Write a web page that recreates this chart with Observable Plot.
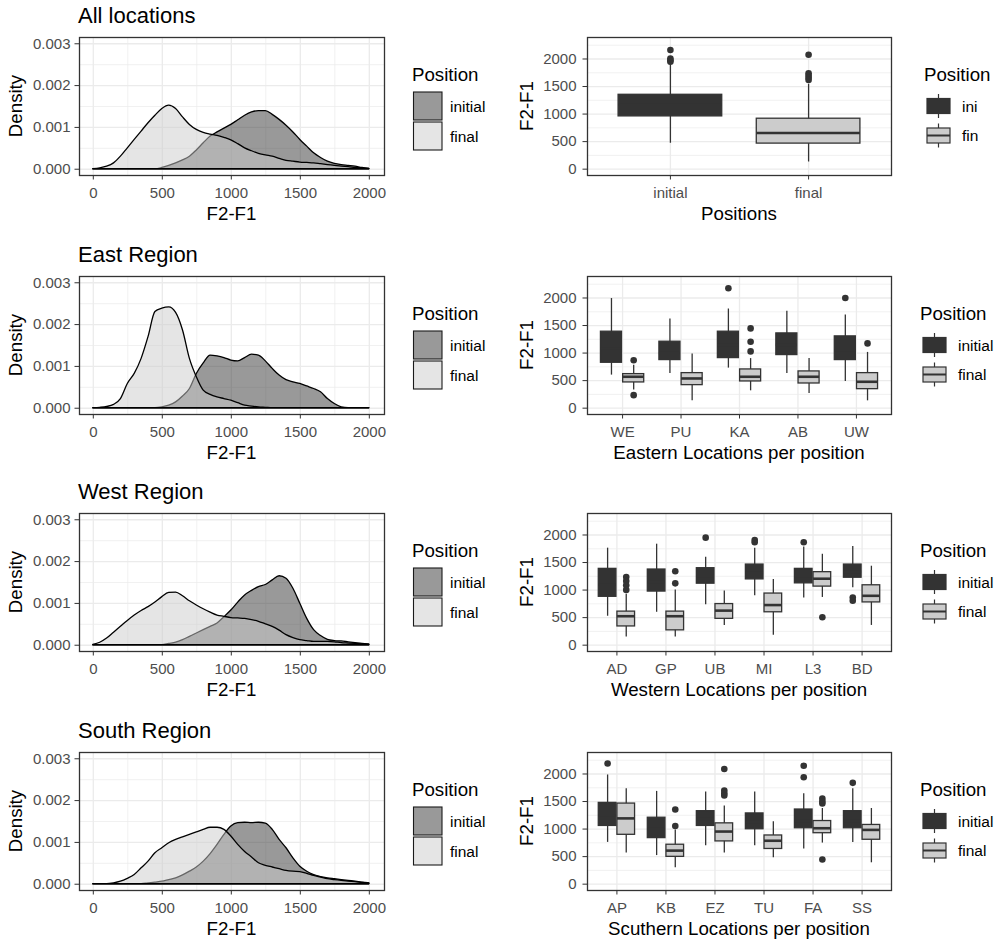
<!DOCTYPE html>
<html><head><meta charset="utf-8">
<script src="https://cdn.jsdelivr.net/npm/d3@7"></script>
<script src="https://cdn.jsdelivr.net/npm/@observablehq/plot@0.6"></script>
<style>
body{margin:0;background:#fff;}
#root{position:relative;width:997px;height:941px;overflow:hidden;background:#fff;font-family:"Liberation Sans",Arial,sans-serif;}
.cell{position:absolute;}
.cell svg{display:block;max-width:none;}
#overlay{position:absolute;left:0;top:0;pointer-events:none;}
</style></head><body><div id="root"></div>
<script>
// ---------------- DATA ----------------
const positions = ["initial", "final"];
const regionTitles = ["All locations", "East Region", "West Region", "South Region"];
const boxAxisTitles = ["Positions", "Eastern Locations per position", "Western Locations per position", "Scuthern Locations per position"];

// density grid (F2-F1) and densities (in units of 0.001)
const densityX = [0,50,100,150,200,250,300,350,400,450,500,550,600,650,700,750,800,850,900,950,1000,1050,1100,1150,1200,1250,1300,1350,1400,1450,1500,1550,1600,1650,1700,1750,1800,1850,1900,1950,2000];
const allInitialDensity = [0,0,0,0,0,0,0,0,0,0,0.03,0.08,0.14,0.21,0.30,0.45,0.62,0.78,0.88,0.97,1.06,1.17,1.28,1.36,1.39,1.39,1.30,1.18,1.04,0.88,0.70,0.54,0.38,0.27,0.18,0.13,0.10,0.08,0.06,0.03,0.01];
const allFinalDensity = [0,0.02,0.06,0.14,0.30,0.50,0.70,0.90,1.10,1.28,1.44,1.52,1.44,1.24,1.06,0.94,0.87,0.83,0.80,0.75,0.69,0.60,0.50,0.43,0.37,0.33,0.30,0.25,0.20,0.18,0.16,0.15,0.14,0.12,0.10,0.08,0.06,0.05,0.03,0.02,0.01];
const eastInitialDensity = [0,0,0,0,0,0,0,0,0,0,0.02,0.06,0.14,0.28,0.46,0.82,1.07,1.26,1.24,1.20,1.14,1.12,1.20,1.28,1.26,1.12,0.94,0.78,0.67,0.62,0.58,0.52,0.46,0.38,0.22,0.10,0.02,0,0,0,0];
const eastFinalDensity = [0,0.01,0.03,0.08,0.22,0.58,0.82,1.18,1.70,2.30,2.38,2.41,2.28,1.86,1.18,0.74,0.42,0.32,0.26,0.22,0.18,0.12,0.06,0.04,0.02,0.01,0,0,0,0,0,0,0,0,0,0,0,0,0,0,0];
const westInitialDensity = [0,0,0,0,0,0,0,0,0,0,0,0.03,0.06,0.12,0.20,0.28,0.36,0.44,0.52,0.67,0.83,1.02,1.19,1.30,1.39,1.44,1.55,1.65,1.59,1.35,0.99,0.63,0.36,0.22,0.13,0.10,0.09,0.07,0.05,0.03,0.02];
const westFinalDensity = [0.01,0.06,0.16,0.30,0.44,0.58,0.71,0.82,0.91,1.02,1.15,1.25,1.26,1.17,1.05,0.95,0.86,0.78,0.71,0.68,0.65,0.64,0.63,0.60,0.56,0.50,0.44,0.35,0.24,0.17,0.12,0.10,0.08,0.08,0.08,0.07,0.05,0.04,0.03,0.02,0.01];
const southInitialDensity = [0,0,0,0,0,0,0,0,0.02,0.04,0.06,0.10,0.14,0.21,0.30,0.40,0.54,0.72,0.94,1.18,1.38,1.46,1.47,1.46,1.47,1.45,1.30,1.06,0.86,0.62,0.42,0.30,0.22,0.17,0.14,0.12,0.10,0.08,0.06,0.04,0.02];
const southFinalDensity = [0,0,0,0.02,0.06,0.13,0.22,0.38,0.54,0.74,0.86,0.98,1.06,1.12,1.18,1.24,1.30,1.35,1.35,1.30,1.14,0.94,0.77,0.64,0.50,0.44,0.40,0.36,0.32,0.30,0.29,0.25,0.20,0.16,0.12,0.10,0.08,0.06,0.05,0.03,0.02];
const densityXTicks = [0, 500, 1000, 1500, 2000];
const densityXMinor = [250, 750, 1250, 1750];
const densityYTicks = [0, 1, 2, 3];
const densityYMinor = [0.5, 1.5, 2.5];

// boxplots: [lower whisker, Q1, median, Q3, upper whisker]
const allLocations = ["initial", "final"];
const allInitialBox = [[470, 958, 1170, 1350, 1925]];
const allFinalBox = [[130, 464, 657, 916, 1540]];
const allInitialOut = [[2163, 2010, 1975, 1950]];
const allFinalOut = [[2078, 1740, 1700, 1660, 1620]];

const eastLocations = ["WE", "PU", "KA", "AB", "UW"];
const eastInitialBox = [[600,824,1080,1388,1990],[630,873,1000,1206,1618],[727,909,1150,1388,1800],[630,964,1150,1357,1757],[485,873,1050,1303,1690]];
const eastFinalBox = [[330,467,570,618,780],[133,418,539,636,982],[315,485,570,703,900],[267,448,570,667,903],[133,345,479,636,1012]];
const eastInitialOut = [[],[],[2176],[],[2000]];
const eastFinalOut = [[870,236],[],[1448,1206,1030],[],[1176]];

const westLocations = ["AD", "GP", "UB", "MI", "L3", "BD"];
const westInitialBox = [[525,878,1100,1385,1761],[597,973,1150,1373,1833],[734,1116,1250,1397,1594],[896,1194,1320,1463,1760],[854,1122,1250,1385,1780],[1040,1224,1330,1463,1790]];
const westFinalBox = [[149,340,525,609,925],[149,269,525,609,1000],[358,478,627,746,985],[179,597,728,937,1194],[866,1063,1206,1325,1650],[358,776,896,1087,1433]];
const westInitialOut = [[],[],[1952],[1910,1869],[1869],[866,806]];
const westFinalOut = [[1236,1164,1087,1003],[1343,1122],[],[],[507],[]];

const southLocations = ["AP", "KB", "EZ", "TU", "FA", "SS"];
const southInitialBox = [[758,1057,1250,1475,1982],[519,836,1000,1206,1684],[699,1057,1180,1325,1672],[699,997,1130,1284,1672],[639,1015,1150,1355,1642],[758,1015,1150,1325,1731]];
const southFinalBox = [[567,896,1194,1463,1731],[299,496,609,716,985],[567,776,955,1104,1420],[478,639,788,884,1134],[746,925,1015,1146,1373],[388,806,985,1075,1373]];
const southInitialOut = [[2191],[],[],[],[2149,1940],[1839]];
const southFinalOut = [[],[1355,1057],[2090,1700,1650,1610],[],[1552,1500,1463,448],[]];

const boxYTicks = [0, 500, 1000, 1500, 2000];
const boxYMinor = [250, 750, 1250, 1750, 2250];
const legendLabelsRow1 = ["ini", "fin"];
const legendLabels = ["initial", "final"];

// ---------------- LAYOUT / STYLE ----------------
const FONT = '"Liberation Sans", Arial, sans-serif';
const rowTops = [37, 276, 513, 752];
const PH = 138; // panel height
const GRID = "#ebebeb", INK = "#333333", TXT = "#4d4d4d";
const root = document.getElementById("root");
const plain = d => String(d);

function place(node, left, top, w) {
  const d = document.createElement("div");
  d.className = "cell";
  d.style.left = left + "px"; d.style.top = top + "px"; d.style.width = w + "px";
  d.appendChild(node);
  root.appendChild(d);
}

function densityPlot(initial, final) {
  const rows = [];
  densityX.forEach((x, i) => rows.push({x, d: initial[i], pos: "initial"}));
  densityX.forEach((x, i) => rows.push({x, d: final[i], pos: "final"}));
  return Plot.plot({
    width: 400, height: 10 + PH + 35,
    marginLeft: 79, marginRight: 16, marginTop: 10, marginBottom: 35,
    style: {fontFamily: FONT, fontSize: "15px", background: "transparent", overflow: "visible"},
    x: {domain: [-100, 2110]},
    y: {domain: [-0.15, 3.15]},
    color: {domain: positions, range: ["#333333", "#cccccc"]},
    marks: [
      Plot.gridX(densityXMinor, {stroke: GRID, strokeOpacity: 1, strokeWidth: 0.7}),
      Plot.gridY(densityYMinor, {stroke: GRID, strokeOpacity: 1, strokeWidth: 0.7}),
      Plot.gridX(densityXTicks, {stroke: GRID, strokeOpacity: 1, strokeWidth: 1.3}),
      Plot.gridY(densityYTicks, {stroke: GRID, strokeOpacity: 1, strokeWidth: 1.3}),
      Plot.areaY(rows.filter(r => r.pos === "initial"), {x: "x", y: "d", fill: "pos", fillOpacity: 0.5, stroke: "#000", strokeWidth: 1.3, curve: "monotone-x"}),
      Plot.areaY(rows.filter(r => r.pos === "final"), {x: "x", y: "d", fill: "pos", fillOpacity: 0.5, stroke: "#000", strokeWidth: 1.3, curve: "monotone-x"}),
      Plot.frame({stroke: INK, strokeWidth: 1.3}),
      Plot.axisX({ticks: densityXTicks, tickFormat: plain, tickSize: 4.5, tickPadding: 7, stroke: INK, fill: TXT, label: null}),
      Plot.axisY({ticks: densityYTicks, tickFormat: d => (d / 1000).toFixed(3), tickSize: 4.5, tickPadding: 4.5, stroke: INK, fill: TXT, label: null})
    ]
  });
}

function boxPlot(cats, iniBox, finBox, iniOut, finOut, single) {
  const boxes = [], outs = [];
  cats.forEach((c, i) => {
    const sets = single
      ? [[positions[i], (i === 0 ? iniBox : finBox)[0], (i === 0 ? iniOut : finOut)[0], i + 1, 0.375]]
      : [["initial", iniBox[i], iniOut[i], i + 1 - 0.19, 0.18], ["final", finBox[i], finOut[i], i + 1 + 0.19, 0.18]];
    sets.forEach(([pos, s, o, center, half]) => {
      boxes.push({pos, c: center, half, lo: s[0], q1: s[1], med: s[2], q3: s[3], hi: s[4]});
      o.forEach(v => outs.push({pos, c: center, v}));
    });
  });
  const ticks = cats.map((c, i) => i + 1);
  return Plot.plot({
    width: 410, height: 10 + PH + 35,
    marginLeft: 87, marginRight: 19, marginTop: 10, marginBottom: 35,
    style: {fontFamily: FONT, fontSize: "15px", background: "transparent", overflow: "visible"},
    x: {domain: [0.4, cats.length + 0.6]},
    y: {domain: [-115, 2390]},
    color: {domain: positions, range: ["#333333", "#cccccc"]},
    marks: [
      Plot.gridY(boxYMinor, {stroke: GRID, strokeOpacity: 1, strokeWidth: 0.7}),
      Plot.gridY(boxYTicks, {stroke: GRID, strokeOpacity: 1, strokeWidth: 1.3}),
      Plot.gridX(ticks, {stroke: GRID, strokeOpacity: 1, strokeWidth: 1.3}),
      Plot.ruleX(boxes, {x: "c", y1: "lo", y2: "hi", stroke: INK, strokeWidth: 1.3}),
      Plot.rect(boxes, {x1: d => d.c - d.half, x2: d => d.c + d.half, y1: "q1", y2: "q3", fill: "pos", stroke: INK, strokeWidth: 1.3}),
      Plot.ruleY(boxes, {y: "med", x1: d => d.c - d.half, x2: d => d.c + d.half, stroke: INK, strokeWidth: 2.6}),
      Plot.dot(outs, {x: "c", y: "v", r: 3.3, fill: INK, stroke: null}),
      Plot.frame({stroke: INK, strokeWidth: 1.3}),
      Plot.axisX({ticks, tickFormat: i => cats[i - 1], tickSize: 4.5, tickPadding: 7, stroke: INK, fill: TXT, label: null}),
      Plot.axisY({ticks: boxYTicks, tickFormat: plain, tickSize: 4.5, tickPadding: 6.5, stroke: INK, fill: TXT, label: null})
    ]
  });
}

const densitySets = [
  [allInitialDensity, allFinalDensity],
  [eastInitialDensity, eastFinalDensity],
  [westInitialDensity, westFinalDensity],
  [southInitialDensity, southFinalDensity]
];
const boxSets = [
  [allLocations, allInitialBox, allFinalBox, allInitialOut, allFinalOut, true],
  [eastLocations, eastInitialBox, eastFinalBox, eastInitialOut, eastFinalOut, false],
  [westLocations, westInitialBox, westFinalBox, westInitialOut, westFinalOut, false],
  [southLocations, southInitialBox, southFinalBox, southInitialOut, southFinalOut, false]
];

rowTops.forEach((T, r) => {
  place(densityPlot(...densitySets[r]), 0, T - 10, 400);
  place(boxPlot(...boxSets[r]), 500, T - 10, 410);
});

// ---------------- TEXT & LEGENDS (overlay) ----------------
const svg = d3.select(root).append("svg").attr("id", "overlay")
  .attr("width", 997).attr("height", 941)
  .style("font-family", FONT);

function txt(x, y, s, size, opts = {}) {
  const t = svg.append("text").attr("x", x).attr("y", y).text(s)
    .attr("font-size", size).attr("fill", opts.fill || "#000");
  if (opts.anchor) t.attr("text-anchor", opts.anchor);
  if (opts.central) t.attr("dominant-baseline", "central");
  if (opts.rotate) t.attr("x", null).attr("y", null).attr("transform", `translate(${x},${y}) rotate(-90)`);
  return t;
}

rowTops.forEach((T, r) => {
  // plot title
  txt(78, T - 14, regionTitles[r], 22);
  // density axis titles
  txt(21.5, T + PH / 2, "Density", 18.7, {anchor: "middle", rotate: true});
  txt(231.5, T + PH + 45, "F2-F1", 18.7, {anchor: "middle"});
  // density legend
  txt(412, T + 44, "Position", 18.7);
  [["#999999", T + 69], ["#e5e5e5", T + 99]].forEach(([f, cy], k) => {
    svg.append("rect").attr("x", 413.5).attr("y", cy - 14).attr("width", 28.5).attr("height", 28)
      .attr("fill", f).attr("stroke", "#1a1a1a").attr("stroke-width", 1.1);
    txt(450, cy, legendLabels[k], 15.5, {central: true});
  });
  // box axis titles
  txt(533, T + PH / 2, "F2-F1", 18.7, {anchor: "middle", rotate: true});
  txt(739, T + PH + 45, boxAxisTitles[r], 18.7, {anchor: "middle"});
  // box legend
  const lx = r === 0 ? 927 : 923, tx = r === 0 ? 924 : 920, labx = r === 0 ? 962 : 958;
  txt(tx, T + 44, "Position", 18.7);
  const labs = r === 0 ? legendLabelsRow1 : legendLabels;
  [["#333333", T + 69], ["#cccccc", T + 98.5]].forEach(([f, cy], k) => {
    const cx = lx + 11.5;
    svg.append("line").attr("x1", cx).attr("x2", cx).attr("y1", cy - 12).attr("y2", cy + 12)
      .attr("stroke", INK).attr("stroke-width", 1.2);
    svg.append("rect").attr("x", lx).attr("y", cy - 7.5).attr("width", 23).attr("height", 15)
      .attr("fill", f).attr("stroke", INK).attr("stroke-width", 1.2);
    svg.append("line").attr("x1", lx).attr("x2", lx + 23).attr("y1", cy).attr("y2", cy)
      .attr("stroke", INK).attr("stroke-width", 2);
    txt(labx, cy, labs[k], 15.5, {central: true});
  });
});
</script></body></html>
